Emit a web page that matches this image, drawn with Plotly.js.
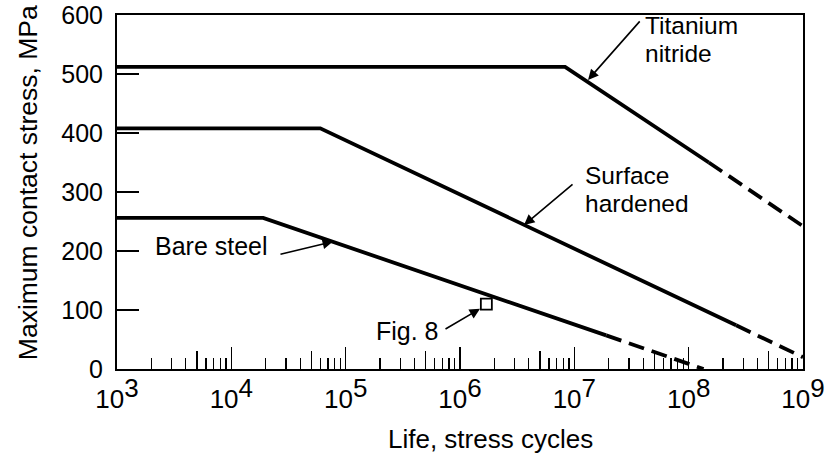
<!DOCTYPE html>
<html>
<head>
<meta charset="utf-8">
<script src="https://cdn.plot.ly/plotly-3.0.1.min.js"></script>
<style>html,body{margin:0;padding:0;background:#fff;}#chart{width:829px;height:459px;}</style>
</head>
<body>
<div id="chart"></div>
<script>
// ---- data ----
const titaniumSolidX = [1e3, 8.3e6, 1.5e8];
const titaniumSolidY = [512, 512, 350];
const titaniumDashX  = [1.5e8, 1e9];
const titaniumDashY  = [350, 242];

const surfaceSolidX = [1e3, 6e4, 2.6e8];
const surfaceSolidY = [408, 408, 74];
const surfaceDashX  = [2.6e8, 1e9];
const surfaceDashY  = [74, 20];

const bareSolidX = [1e3, 1.9e4, 1.9e7];
const bareSolidY = [256, 256, 57];
const bareDashX  = [1.9e7, 1.35e8];
const bareDashY  = [57, 0];

const fig8X = [1.7e6];
const fig8Y = [110];

const decadeExps = [3, 4, 5, 6, 7, 8, 9];
const minorMult = [2, 3, 4, 6, 7, 8, 9];
const midMult = [5];
const yTicks = [0, 100, 200, 300, 400, 500, 600];

const xTitle = 'Life, stress cycles';
const yTitle = 'Maximum contact stress, MPa';

// ---- build tick arrays ----
const majorVals = decadeExps.map(e => Math.pow(10, e));
const majorText = decadeExps.map(e => '10<sup><span style="font-size:26px">' + e + '</span></sup>');
const minorVals = [], midVals = [];
decadeExps.slice(0, -1).forEach(e => {
  minorMult.forEach(m => minorVals.push(m * Math.pow(10, e)));
  midMult.forEach(m => midVals.push(m * Math.pow(10, e)));
});

const FONT = 'Liberation Sans, Arial, Helvetica, sans-serif';
const lineStyle = {color: '#000', width: 3.8};
const dashStyle = {color: '#000', width: 3.8, dash: '16px,8px'};

const traces = [
  {x: titaniumSolidX, y: titaniumSolidY, mode: 'lines', line: lineStyle},
  {x: titaniumDashX, y: titaniumDashY, mode: 'lines', line: dashStyle},
  {x: surfaceSolidX, y: surfaceSolidY, mode: 'lines', line: lineStyle},
  {x: surfaceDashX, y: surfaceDashY, mode: 'lines', line: dashStyle},
  {x: bareSolidX, y: bareSolidY, mode: 'lines', line: lineStyle},
  {x: bareDashX, y: bareDashY, mode: 'lines', line: dashStyle},
  {x: fig8X, y: fig8Y, mode: 'markers',
   marker: {symbol: 'square-open', size: 11, color: '#000', line: {width: 1.8, color: '#000'}}},
  {x: [], y: [], xaxis: 'x2', yaxis: 'y', mode: 'lines'},
  {x: [], y: [], xaxis: 'x3', yaxis: 'y', mode: 'lines'}
];

const baseX = {
  type: 'log', range: [3, 9], showgrid: false, zeroline: false,
  ticks: 'inside', tickcolor: '#000'
};

const arrow = {showarrow: true, arrowhead: 2, arrowsize: 1.3, arrowwidth: 1.6, arrowcolor: '#000', text: ''};
function label(text, x, y, xanchor, size) {
  return {x: x, y: y, xref: 'x', yref: 'y', text: text, showarrow: false,
          xanchor: xanchor, yanchor: 'middle', font: {family: FONT, size: size, color: '#000'}};
}

const layout = {
  width: 829, height: 459,
  margin: {l: 117, r: 26, t: 15, b: 90},
  paper_bgcolor: '#fff', plot_bgcolor: '#fff',
  showlegend: false,
  font: {family: FONT, color: '#000'},
  xaxis: Object.assign({}, baseX, {
    tickvals: majorVals, ticktext: majorText, ticklen: 22, tickwidth: 1.5,
    showline: true, mirror: true, linecolor: '#000', linewidth: 2,
    tickfont: {family: FONT, size: 26, color: '#000'},
    ticklabelstandoff: 6
  }),
  xaxis2: Object.assign({}, baseX, {
    overlaying: 'x', anchor: 'y', side: 'bottom',
    tickvals: minorVals, ticklen: 11, tickwidth: 1.3, showticklabels: false, showline: false
  }),
  xaxis3: Object.assign({}, baseX, {
    overlaying: 'x', anchor: 'y', side: 'bottom',
    tickvals: midVals, ticklen: 18, tickwidth: 1.3, showticklabels: false, showline: false
  }),
  yaxis: {
    range: [0, 600], tickvals: yTicks, showgrid: false, zeroline: false,
    ticks: 'inside', ticklen: 22, tickwidth: 1.5, tickcolor: '#000',
    showline: true, mirror: true, linecolor: '#000', linewidth: 2,
    tickfont: {family: FONT, size: 25, color: '#000'},
    ticklabelstandoff: 7
  },
  annotations: [
    // axis titles
    {xref: 'paper', yref: 'paper', x: 0.545, y: -0.198, text: xTitle, showarrow: false,
     xanchor: 'center', yanchor: 'middle', font: {family: FONT, size: 26, color: '#000'}},
    {xref: 'paper', yref: 'paper', x: -0.1297, y: 0.525, text: yTitle, showarrow: false, textangle: -90,
     xanchor: 'center', yanchor: 'middle', font: {family: FONT, size: 26.5, color: '#000'}},
    // callouts
    Object.assign({}, arrow, {x: 7.12, y: 490, xref: 'x', yref: 'y', ax: 53, ay: -60}),
    label('Titanium', 7.6, 583, 'left', 24.5),
    label('nitride', 7.6, 535, 'left', 24.5),
    Object.assign({}, arrow, {x: 6.56, y: 244, xref: 'x', yref: 'y', ax: 50, ay: -42}),
    label('Surface', 7.076, 328, 'left', 24.5),
    label('hardened', 7.076, 280, 'left', 24.5),
    Object.assign({}, arrow, {x: 4.889, y: 216, xref: 'x', yref: 'y', ax: -54, ay: 13}),
    label('Bare steel', 4.338, 208, 'right', 25),
    Object.assign({}, arrow, {x: 6.175, y: 102, xref: 'x', yref: 'y', ax: -36, ay: 21}),
    label('Fig. 8', 5.835, 64, 'right', 25)
  ]
};

Plotly.newPlot('chart', traces, layout, {staticPlot: true, displayModeBar: false});
</script>
</body>
</html>
